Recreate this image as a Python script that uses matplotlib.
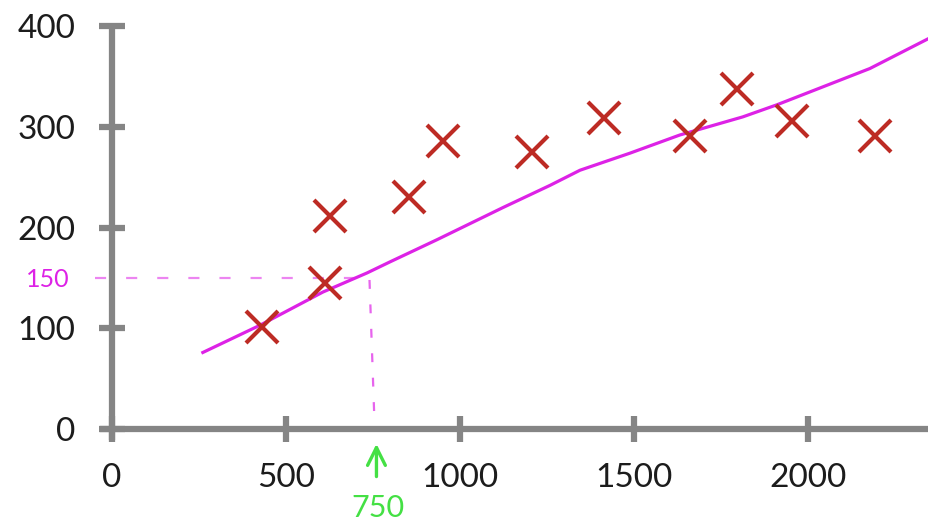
import matplotlib
matplotlib.use("Agg")
import matplotlib.pyplot as plt

# house size (feet^2) vs price ($1000s)
size = [431, 612, 626, 853, 951, 1207, 1414, 1661, 1796, 1954, 2193]
price = [101, 145, 212, 230, 286, 275, 309, 291, 338, 306, 291]

# hand-drawn fit curve
fit_x = [261, 425, 606, 733, 799, 934, 1124, 1259, 1345, 1489, 1632, 1813, 1911, 2178, 2348]
fit_y = [76, 103, 136, 155, 166, 188, 220, 242, 257, 274, 292, 310, 322, 358, 388]

query_x = 750
query_y = 150

x_ticks = [0, 500, 1000, 1500, 2000]
y_ticks = [0, 100, 200, 300, 400]

AXIS_GRAY = "#858585"
RED = "#bd2b24"
MAGENTA = "#dd22e6"
GREEN = "#44e044"
TEXT = "#1c1c1c"

plt.rcParams["font.family"] = ["Lato", "DejaVu Sans"]

fig = plt.figure(figsize=(9.29, 5.25), dpi=100)
ax = fig.add_axes([0.1056, 0.1541, 0.8944, 0.8055])
ax.set_xlim(-40, 2348)
ax.set_ylim(-15, 405)

for side in ["top", "right"]:
    ax.spines[side].set_visible(False)
ax.spines["left"].set_position(("data", 0))
ax.spines["bottom"].set_position(("data", 0))
ax.spines["left"].set_bounds(-11, 400)
ax.spines["bottom"].set_bounds(-35, 2348)
for side in ["left", "bottom"]:
    ax.spines[side].set_color(AXIS_GRAY)
    ax.spines[side].set_linewidth(4.5)
    ax.spines[side].set_capstyle("butt")

ax.set_xticks(x_ticks)
ax.set_yticks(y_ticks)
ax.set_xticklabels([str(v) for v in x_ticks])
ax.set_yticklabels([str(v) for v in y_ticks])
ax.tick_params(axis="both", direction="inout", length=19, width=4.5,
               color=AXIS_GRAY, labelsize=24, labelcolor=TEXT)
ax.tick_params(axis="y", pad=17)
ax.tick_params(axis="x", pad=15)

# dashed guide lines to the query point
ax.plot([-50, query_x - 10], [query_y, query_y], color=MAGENTA, lw=1.6,
        ls=(0, (5, 9)), alpha=0.55, clip_on=False, zorder=2)
ax.plot([query_x - 10, query_x + 5], [query_y - 2, 0], color=MAGENTA, lw=1.6,
        ls=(0, (4, 7)), alpha=0.7, clip_on=False, zorder=2)

ax.plot(fit_x, fit_y, color=MAGENTA, lw=2.3, zorder=3, clip_on=False)
ax.plot(size, price, "x", color=RED, ms=23, mew=3.0, zorder=4, linestyle="none")

ax.text(-185, query_y - 2, "150", color=MAGENTA, fontsize=18, ha="center",
        va="center", clip_on=False)
ax.annotate("", xy=(query_x + 10, -12), xytext=(query_x + 10, -50),
            arrowprops=dict(arrowstyle="->", color=GREEN, lw=2.4, mutation_scale=32),
            annotation_clip=False)
ax.text(query_x + 15, -78, "750", color=GREEN, fontsize=22, ha="center",
        va="center", clip_on=False)

fig.savefig("out.png", dpi=100, facecolor="white")
